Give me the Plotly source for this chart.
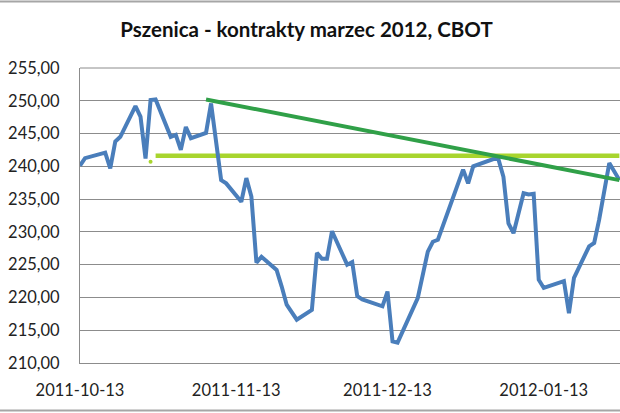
import plotly.graph_objects as go

# ---- data ----
dates = [
    "2011-10-13", "2011-10-14", "2011-10-18", "2011-10-19", "2011-10-20", "2011-10-21",
    "2011-10-24", "2011-10-25", "2011-10-26", "2011-10-27", "2011-10-28", "2011-10-31",
    "2011-11-01", "2011-11-02", "2011-11-03", "2011-11-04", "2011-11-07", "2011-11-08",
    "2011-11-10", "2011-11-11", "2011-11-14", "2011-11-15", "2011-11-16", "2011-11-17",
    "2011-11-18", "2011-11-21", "2011-11-22", "2011-11-23", "2011-11-25", "2011-11-28",
    "2011-11-29", "2011-11-30", "2011-12-01", "2011-12-02", "2011-12-05", "2011-12-06",
    "2011-12-07", "2011-12-08", "2011-12-12", "2011-12-13", "2011-12-14", "2011-12-15",
    "2011-12-19", "2011-12-20", "2011-12-21", "2011-12-22", "2011-12-23", "2011-12-28",
    "2011-12-29", "2011-12-30", "2012-01-01", "2012-01-03", "2012-01-04", "2012-01-05",
    "2012-01-06", "2012-01-07", "2012-01-09", "2012-01-10", "2012-01-11", "2012-01-12",
    "2012-01-13", "2012-01-17", "2012-01-18", "2012-01-19", "2012-01-22", "2012-01-23",
    "2012-01-24", "2012-01-26", "2012-01-28",
]
prices = [
    240.1, 241.25, 242.1, 239.7, 243.8, 244.5,
    249.2, 247.6, 241.2, 250.1, 250.2, 244.5,
    244.8, 242.5, 246.0, 244.3, 245.1, 249.6,
    237.9, 237.4, 234.6, 238.2, 235.4, 225.3,
    226.2, 224.2, 221.7, 218.9, 216.6, 218.1,
    226.8, 225.9, 225.9, 230.1, 225.0, 225.4,
    220.2, 219.7, 218.65, 220.9, 213.3, 213.1,
    219.9, 223.5, 227.0, 228.5, 228.8, 239.5,
    237.4, 240.0, 240.6, 241.1, 241.1, 238.4,
    231.3, 229.8, 235.9, 235.7, 235.8, 222.7,
    221.45, 222.5, 217.6, 223.0, 227.8, 228.3,
    231.9, 240.5, 237.9,
]

trend_dates = ["2011-11-07", "2012-01-28"]
trend_values = [250.2, 237.9]

level_dates = ["2011-10-28", "2012-01-28"]
level_values = [241.6, 241.6]
level_dot_date = ["2011-10-27"]
level_dot_value = [240.7]

x_tick_vals = ["2011-10-13", "2011-11-13", "2011-12-13", "2012-01-13"]
x_tick_text = ["2011-10-13", "2011-11-13", "2011-12-13", "2012-01-13"]
y_tick_vals = [210, 215, 220, 225, 230, 235, 240, 245, 250, 255]
y_tick_text = ["210,00", "215,00", "220,00", "225,00", "230,00", "235,00",
               "240,00", "245,00", "250,00", "255,00"]

title_text = "Pszenica - kontrakty marzec 2012, CBOT"

# ---- figure ----
fig = go.Figure()

fig.add_trace(go.Scatter(x=level_dates, y=level_values, mode="lines",
                         line=dict(color="#a8d52e", width=4.5),
                         hoverinfo="skip", showlegend=False))
fig.add_trace(go.Scatter(x=level_dot_date, y=level_dot_value, mode="markers",
                         marker=dict(color="#a8d52e", size=4),
                         hoverinfo="skip", showlegend=False))
fig.add_trace(go.Scatter(x=dates, y=prices, mode="lines",
                         line=dict(color="#4a7ebb", width=4),
                         showlegend=False))
fig.add_trace(go.Scatter(x=trend_dates, y=trend_values, mode="lines",
                         line=dict(color="#30a048", width=4),
                         hoverinfo="skip", showlegend=False))

tick_font = dict(family="Lato, 'Open Sans', sans-serif", size=16.5, color="#222222")

fig.update_layout(
    width=620, height=413,
    margin=dict(l=80, r=0, t=68, b=50),
    paper_bgcolor="white", plot_bgcolor="white",
    title=dict(text="<b>" + title_text + "</b>",
               x=306.5 / 620, xref="container", xanchor="center",
               y=1 - 30 / 413, yref="container", yanchor="middle",
               font=dict(family="Lato, 'Open Sans', sans-serif", size=20.5, color="#111111")),
    xaxis=dict(type="date",
               range=["2011-10-13", "2012-01-28 03:00"],
               tickmode="array", tickvals=x_tick_vals, ticktext=x_tick_text,
               showgrid=False, zeroline=False,
               showline=True, linecolor="#8c8c8c", linewidth=1,
               ticks="", ticklabelstandoff=12,
               tickfont=tick_font, fixedrange=True),
    yaxis=dict(range=[210, 255],
               tickmode="array", tickvals=y_tick_vals, ticktext=y_tick_text,
               showgrid=True, gridcolor="#8c8c8c", gridwidth=1,
               zeroline=False,
               showline=True, linecolor="#8c8c8c", linewidth=1,
               ticks="", ticklabelstandoff=16,
               tickfont=tick_font, fixedrange=True),
    shapes=[
        # top border of plot area
        dict(type="line", xref="paper", yref="paper", x0=0, x1=1, y0=1, y1=1,
             line=dict(color="#8c8c8c", width=1)),
        # chart frame top / bottom
        dict(type="line", xref="paper", yref="paper", x0=-0.2, x1=1.0,
             y0=(363 - 1.5) / 295, y1=(363 - 1.5) / 295,
             line=dict(color="#a6a6a6", width=2)),
        dict(type="line", xref="paper", yref="paper", x0=-0.2, x1=1.0,
             y0=(363 - 410.5) / 295, y1=(363 - 410.5) / 295,
             line=dict(color="#a6a6a6", width=2)),
    ],
)

fig.write_html(
    "out.html",
    config={"displayModeBar": False, "staticPlot": True},
    post_script="document.body.style.margin='0';document.body.style.overflow='hidden';",
)
